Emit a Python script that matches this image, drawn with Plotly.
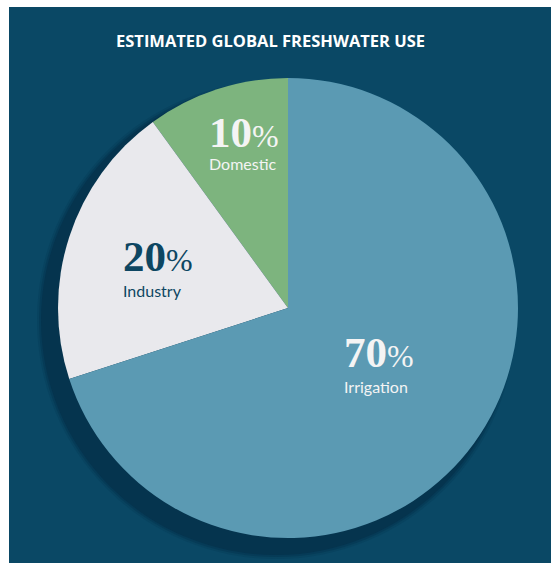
import plotly.graph_objects as go

# Share of global freshwater withdrawals by sector
sectors = ["Domestic", "Industry", "Irrigation"]
shares = [10, 20, 70]
slice_colors = ["#7db47e", "#e9e9ed", "#5b9ab3"]
text_colors = ["#f4f4f4", "#0d4662", "#f4f4f4"]
title_text = "ESTIMATED GLOBAL FRESHWATER USE"

W, H = 551, 563
BG = "#0a4865"
SHADOW = "#05344e"


def px(x):
    return x / W


def py(y):
    return 1 - y / H


fig = go.Figure()

# pie centred at (288, 308) px with radius 230 px; Domestic runs
# counter-clockwise from 12 o'clock, then Industry, then Irrigation
fig.add_trace(go.Pie(
    labels=sectors,
    values=shares,
    sort=False,
    direction="counterclockwise",
    rotation=-36,
    marker=dict(colors=slice_colors, line=dict(width=0)),
    textinfo="none",
    hoverinfo="label+percent",
    showlegend=False,
    domain=dict(x=[px(58), px(518)], y=[py(538), py(78)]),
))

shapes = [
    # thin white strips along the left and top edges
    dict(type="rect", xref="paper", yref="paper", x0=-0.05, x1=px(9), y0=-0.05, y1=1.05,
         fillcolor="#ffffff", line=dict(width=0), layer="below"),
    dict(type="rect", xref="paper", yref="paper", x0=-0.05, x1=1.05, y0=py(7), y1=1.05,
         fillcolor="#ffffff", line=dict(width=0), layer="below"),
]
# soft drop shadow down-left of the pie
for grow, op in [(4, 0.25), (2, 0.45), (0, 1.0)]:
    cx, cy, r = 276, 320, 235 + grow
    shapes.append(dict(type="circle", xref="paper", yref="paper",
                       x0=px(cx - r), x1=px(cx + r), y0=py(cy + r), y1=py(cy - r),
                       fillcolor=SHADOW, opacity=op, line=dict(width=0), layer="below"))

# label positions: left edge, number centre, caption centre (px)
label_pos = {
    "Domestic": (207, 133, 163),
    "Industry": (121, 256, 290),
    "Irrigation": (342, 352, 386),
}

annotations = [
    dict(text=f"<b>{title_text}</b>", x=px(270), y=py(41), xref="paper", yref="paper",
         xanchor="center", yanchor="middle", showarrow=False,
         font=dict(family="Open Sans", size=16.5, color="#ffffff")),
]
for name, val, tc in zip(sectors, shares, text_colors):
    lx, ny, cy = label_pos[name]
    annotations.append(dict(
        text=f"<b>{val}</b><span style='font-size:32px;font-weight:400'>%</span>",
        x=px(lx), y=py(ny), xref="paper", yref="paper",
        xanchor="left", yanchor="middle", showarrow=False,
        font=dict(family="Liberation Serif", size=43, color=tc)))
    annotations.append(dict(
        text=name, x=px(lx), y=py(cy), xref="paper", yref="paper",
        xanchor="left", yanchor="middle", showarrow=False,
        font=dict(family="Lato", size=16, color=tc)))

fig.update_layout(
    width=W, height=H,
    margin=dict(l=0, r=0, t=0, b=0),
    paper_bgcolor=BG,
    plot_bgcolor=BG,
    shapes=shapes,
    annotations=annotations,
)

fig.write_html("out.html")
